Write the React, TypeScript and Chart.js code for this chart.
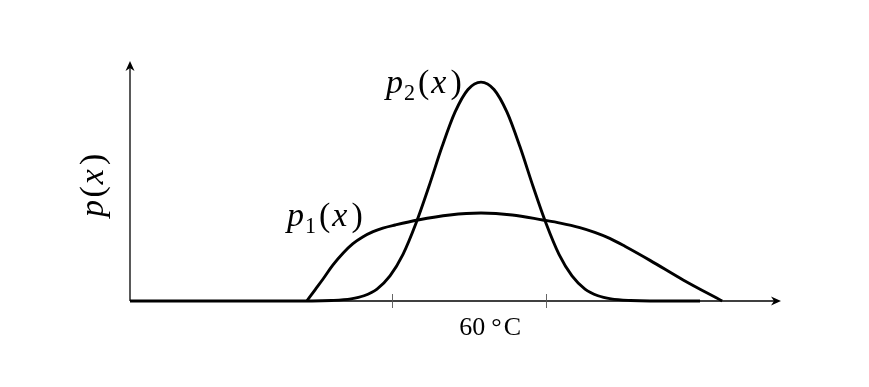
import React, { useEffect, useRef } from "react";
import { Chart, registerables } from "chart.js";

Chart.register(...registerables);

// x in arbitrary temperature-axis units (0..100 across the axis), y = density (0..1)
const p1X = [27.2, 28.5, 29.7, 31.2, 32.8, 34.3, 35.8, 37.4, 38.9, 40.8, 44.3, 49.2, 54.0, 58.8, 63.5, 66.2, 69.2, 71.5, 73.8, 76.2, 80.0, 85.1, 91.1];
const p1Y = [0, 0.048, 0.092, 0.15, 0.201, 0.24, 0.268, 0.29, 0.305, 0.318, 0.339, 0.36, 0.368, 0.36, 0.339, 0.326, 0.307, 0.287, 0.262, 0.228, 0.17, 0.088, 0];

const p2X = [0, 28.0, 31.0, 34.0, 36.0, 38.0, 40.0, 42.0, 44.0, 46.0, 48.0, 50.0, 52.0, 54.0, 56.0, 58.0, 60.0, 62.0, 64.0, 66.0, 68.0, 70.0, 72.0, 74.0, 77.0, 80.0, 87.7];
const p2Y = [0, 0, 0.002, 0.009, 0.022, 0.05, 0.105, 0.195, 0.325, 0.48, 0.645, 0.79, 0.885, 0.916, 0.885, 0.79, 0.645, 0.48, 0.325, 0.195, 0.105, 0.05, 0.022, 0.009, 0.002, 0, 0];

const xTickValues = [40.3, 64.0];
const xLabelValue = 55.4;
const xLabelNumber = "60";
const xLabelUnit = "°C";
const seriesSubscripts = ["1", "2"];

type Part = { t: string; s: "i" | "r" | "sub"; gap?: number };

const FONT = '"Liberation Serif", "Times New Roman", serif';

function mathParts(sub: string | null): Part[] {
  const parts: Part[] = [{ t: "p", s: "i", gap: sub ? 1 : 2.5 }];
  if (sub) parts.push({ t: sub, s: "sub", gap: 3 });
  parts.push({ t: "(", s: "r", gap: 2 });
  parts.push({ t: "x", s: "i", gap: 4 });
  parts.push({ t: ")", s: "r" });
  return parts;
}

function drawMath(ctx: CanvasRenderingContext2D, parts: Part[], x: number, y: number, size: number) {
  let cx = x;
  for (const p of parts) {
    const fs = p.s === "sub" ? size * 0.65 : size;
    ctx.font = `${p.s === "i" ? "italic " : ""}${fs}px ${FONT}`;
    const dy = p.s === "sub" ? size * 0.21 : 0;
    ctx.fillText(p.t, cx, y + dy);
    cx += ctx.measureText(p.t).width + (p.gap ?? 0);
  }
}

const overlayPlugin = {
  id: "overlay",
  beforeDatasetsDraw(chart: any) {
    const { ctx, chartArea, scales } = chart;
    const { left, right, top } = chartArea;
    const xs = scales.x;
    const ys = scales.y;
    const y0 = ys.getPixelForValue(0);
    ctx.save();
    ctx.strokeStyle = "#000";
    ctx.fillStyle = "#000";
    ctx.lineWidth = 1.3;
    ctx.beginPath();
    ctx.moveTo(left, y0);
    ctx.lineTo(right - 5, y0);
    ctx.stroke();
    ctx.beginPath();
    ctx.moveTo(left, y0);
    ctx.lineTo(left, top + 5);
    ctx.stroke();
    ctx.beginPath();
    ctx.moveTo(right + 1, y0);
    ctx.lineTo(right - 9, y0 - 4.5);
    ctx.lineTo(right - 6, y0);
    ctx.lineTo(right - 9, y0 + 4.5);
    ctx.closePath();
    ctx.fill();
    ctx.beginPath();
    ctx.moveTo(left, top - 1);
    ctx.lineTo(left - 4.5, top + 9);
    ctx.lineTo(left, top + 6);
    ctx.lineTo(left + 4.5, top + 9);
    ctx.closePath();
    ctx.fill();
    ctx.strokeStyle = "#555";
    ctx.lineWidth = 0.9;
    for (const v of xTickValues) {
      const px = Math.round(xs.getPixelForValue(v)) + 0.5;
      ctx.beginPath();
      ctx.moveTo(px, y0 - 7);
      ctx.lineTo(px, y0 + 7);
      ctx.stroke();
    }
    ctx.restore();
  },
  afterDatasetsDraw(chart: any) {
    const { ctx, scales } = chart;
    const xs = scales.x;
    const ys = scales.y;
    const y0 = ys.getPixelForValue(0);
    ctx.save();
    ctx.fillStyle = "#000";
    ctx.textAlign = "left";
    ctx.textBaseline = "alphabetic";
    drawMath(ctx, mathParts(seriesSubscripts[0]), 287, 226, 34);
    drawMath(ctx, mathParts(seriesSubscripts[1]), 386, 93, 34);
    ctx.save();
    ctx.translate(103, 217);
    ctx.rotate(-Math.PI / 2);
    drawMath(ctx, mathParts(null), 0, 0, 34);
    ctx.restore();
    const cx = xs.getPixelForValue(xLabelValue);
    ctx.font = `26px ${FONT}`;
    const wNum = ctx.measureText(xLabelNumber).width;
    const wDeg = ctx.measureText("°").width;
    const wC = ctx.measureText("C").width;
    const gap1 = 6;
    const gap2 = 2;
    const total = wNum + gap1 + wDeg + gap2 + wC;
    let sx = cx - total / 2;
    const by = y0 + 34;
    ctx.fillText(xLabelNumber, sx, by);
    sx += wNum + gap1;
    ctx.fillText("°", sx, by);
    sx += wDeg + gap2;
    ctx.fillText(xLabelUnit.slice(1), sx, by);
    ctx.restore();
  },
};

export default function App() {
  const ref = useRef<HTMLCanvasElement | null>(null);
  useEffect(() => {
    if (!ref.current) return;
    const mk = (xs: number[], ys: number[]) => xs.map((x, i) => ({ x, y: ys[i] }));
    const chart = new Chart(ref.current, {
      type: "line",
      data: {
        datasets: [
          {
            label: "p2",
            data: mk(p2X, p2Y),
            borderColor: "#000",
            borderWidth: 2.9,
            pointRadius: 0,
            cubicInterpolationMode: "monotone",
            fill: false,
            clip: false,
          } as any,
          {
            label: "p1",
            data: mk(p1X, p1Y),
            borderColor: "#000",
            borderWidth: 2.9,
            pointRadius: 0,
            cubicInterpolationMode: "monotone",
            fill: false,
            clip: false,
          } as any,
        ],
      },
      options: {
        animation: false,
        responsive: true,
        maintainAspectRatio: false,
        layout: { padding: { left: 130, right: 89, top: 62, bottom: 86 } },
        plugins: { legend: { display: false }, tooltip: { enabled: false } },
        scales: {
          x: { type: "linear", min: 0, max: 100, display: false },
          y: { type: "linear", min: 0, max: 1, display: false },
        },
      },
      plugins: [overlayPlugin],
    });
    return () => chart.destroy();
  }, []);
  return (
    <div style={{ position: "fixed", left: 0, top: 0, width: 869, height: 387, background: "#fff" }}>
      <canvas ref={ref} />
    </div>
  );
}
